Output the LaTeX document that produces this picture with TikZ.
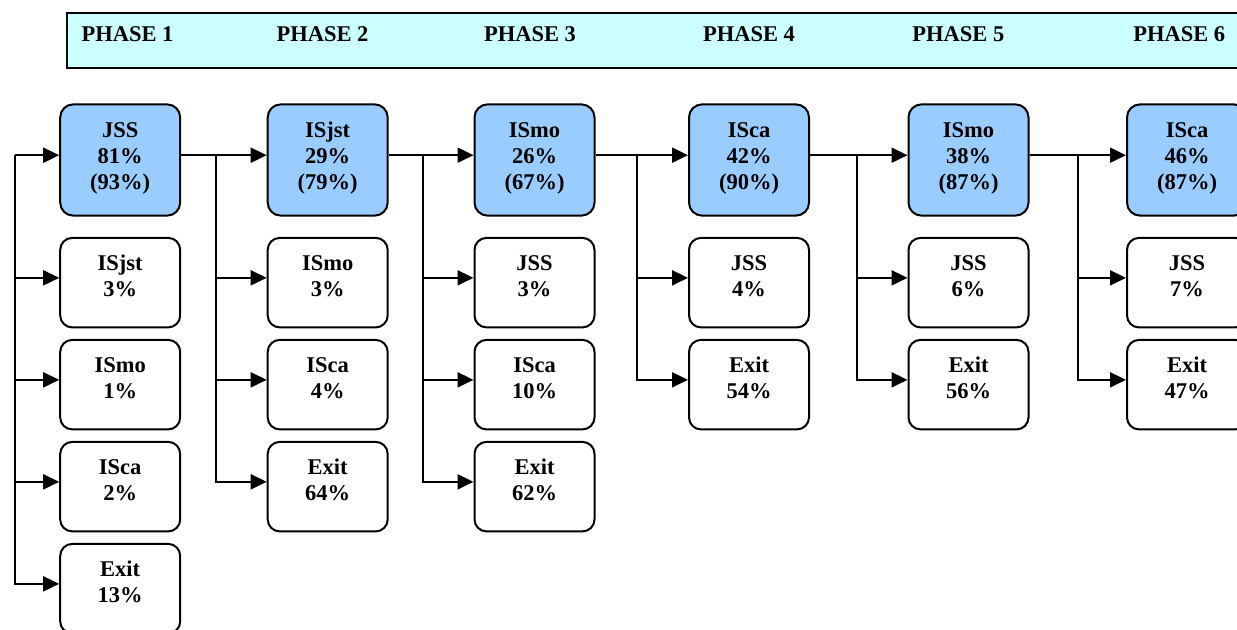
\documentclass[tikz,border=0pt]{standalone}
\usepackage{fontspec}
\setmainfont{Liberation Serif}
\usetikzlibrary{arrows.meta,positioning}
\definecolor{phasecyan}{RGB}{204,255,255}
\definecolor{mainblue}{RGB}{153,204,255}

\begin{document}
\begin{tikzpicture}[x=0.5pt,y=-0.5pt,>={Triangle[length=8pt,width=7.5pt]},line width=1pt,
    font=\fontsize{11.25}{13}\selectfont\bfseries,
    band/.style={draw,fill=phasecyan,minimum width=592pt,minimum height=27.5pt,inner sep=0pt,anchor=north west},
    phase/.style={anchor=base,inner sep=0pt},
    mainbox/.style={draw,fill=mainblue,rounded corners=6.5pt,inner sep=0pt,text width=60pt,align=center,text height=16.5pt,text depth=39.1pt},
    sidebox/.style={draw,fill=white,rounded corners=6pt,inner sep=0pt,text width=60pt,align=center,text height=16.3pt,text depth=28.45pt}]
        \useasboundingbox (0,0) rectangle (1237,630);
        \clip (0,0) rectangle (1237,630);
        % phase header
        \node[band] (hdr) at (66,12) {};
        \node[phase] (ph1) at (127.5,41.7) {PHASE 1};
        \node[phase] (ph2) at (322.5,41.7) {PHASE 2};
        \node[phase] (ph3) at (530,41.7) {PHASE 3};
        \node[phase] (ph4) at (749,41.7) {PHASE 4};
        \node[phase] (ph5) at (958.3,41.7) {PHASE 5};
        \node[phase] (ph6) at (1179.2,41.7) {PHASE 6};
        % main path
        \node[mainbox] (s1) at (120.2,160) {JSS\\81\%\\(93\%)};
        \node[mainbox,right=42.75pt of s1] (s2) {ISjst\\29\%\\(79\%)};
        \node[mainbox,right=42.4pt of s2] (s3) {ISmo\\26\%\\(67\%)};
        \node[mainbox,right=46.25pt of s3] (s4) {ISca\\42\%\\(90\%)};
        \node[mainbox,right=48.75pt of s4] (s5) {ISmo\\38\%\\(87\%)};
        \node[mainbox,right=48.25pt of s5] (s6) {ISca\\46\%\\(87\%)};
        % phase 1 branches
        \node[sidebox,below=10.15pt of s1] (s1a) {ISjst\\3\%};
        \node[sidebox,below=5.25pt of s1a] (s1b) {ISmo\\1\%};
        \node[sidebox,below=5.25pt of s1b] (s1c) {ISca\\2\%};
        \node[sidebox,below=5.25pt of s1c] (s1d) {Exit\\13\%};
        % phase 2 branches
        \node[sidebox,below=10.15pt of s2] (s2a) {ISmo\\3\%};
        \node[sidebox,below=5.25pt of s2a] (s2b) {ISca\\4\%};
        \node[sidebox,below=5.25pt of s2b] (s2c) {Exit\\64\%};
        % phase 3 branches
        \node[sidebox,below=10.15pt of s3] (s3a) {JSS\\3\%};
        \node[sidebox,below=5.25pt of s3a] (s3b) {ISca\\10\%};
        \node[sidebox,below=5.25pt of s3b] (s3c) {Exit\\62\%};
        % phase 4 to 6 branches
        \node[sidebox,below=10.15pt of s4] (s4a) {JSS\\4\%};
        \node[sidebox,below=5.25pt of s4a] (s4b) {Exit\\54\%};
        \node[sidebox,below=10.15pt of s5] (s5a) {JSS\\6\%};
        \node[sidebox,below=5.25pt of s5a] (s5b) {Exit\\56\%};
        \node[sidebox,below=10.15pt of s6] (s6a) {JSS\\7\%};
        \node[sidebox,below=5.25pt of s6a] (s6b) {Exit\\47\%};
        % trunks
        \coordinate (t1) at ([xshift=-22.2pt,yshift=2.4pt]s1.west);
        \coordinate (t2) at ([xshift=17.5pt,yshift=2.4pt]s1.east);
        \coordinate (t3) at ([xshift=17pt,yshift=2.4pt]s2.east);
        \coordinate (t4) at ([xshift=20.5pt,yshift=2.4pt]s3.east);
        \coordinate (t5) at ([xshift=23.5pt,yshift=2.4pt]s4.east);
        \coordinate (t6) at ([xshift=24.2pt,yshift=2.4pt]s5.east);
        \draw[->] (t1) -- ([yshift=2.4pt]s1.west);
        \draw[->] (t1) |- ([yshift=2.4pt]s1a.west);
        \draw[->] (t1) |- ([yshift=2.4pt]s1b.west);
        \draw[->] (t1) |- ([yshift=2.4pt]s1c.west);
        \draw[->] (t1) |- ([yshift=2.4pt]s1d.west);
        \draw[->] ([yshift=2.4pt]s1.east) -- ([yshift=2.4pt]s2.west);
        \draw[->] (t2) |- ([yshift=2.4pt]s2a.west);
        \draw[->] (t2) |- ([yshift=2.4pt]s2b.west);
        \draw[->] (t2) |- ([yshift=2.4pt]s2c.west);
        \draw[->] ([yshift=2.4pt]s2.east) -- ([yshift=2.4pt]s3.west);
        \draw[->] (t3) |- ([yshift=2.4pt]s3a.west);
        \draw[->] (t3) |- ([yshift=2.4pt]s3b.west);
        \draw[->] (t3) |- ([yshift=2.4pt]s3c.west);
        \draw[->] ([yshift=2.4pt]s3.east) -- ([yshift=2.4pt]s4.west);
        \draw[->] (t4) |- ([yshift=2.4pt]s4a.west);
        \draw[->] (t4) |- ([yshift=2.4pt]s4b.west);
        \draw[->] ([yshift=2.4pt]s4.east) -- ([yshift=2.4pt]s5.west);
        \draw[->] (t5) |- ([yshift=2.4pt]s5a.west);
        \draw[->] (t5) |- ([yshift=2.4pt]s5b.west);
        \draw[->] ([yshift=2.4pt]s5.east) -- ([yshift=2.4pt]s6.west);
        \draw[->] (t6) |- ([yshift=2.4pt]s6a.west);
        \draw[->] (t6) |- ([yshift=2.4pt]s6b.west);
\end{tikzpicture}
\end{document}
